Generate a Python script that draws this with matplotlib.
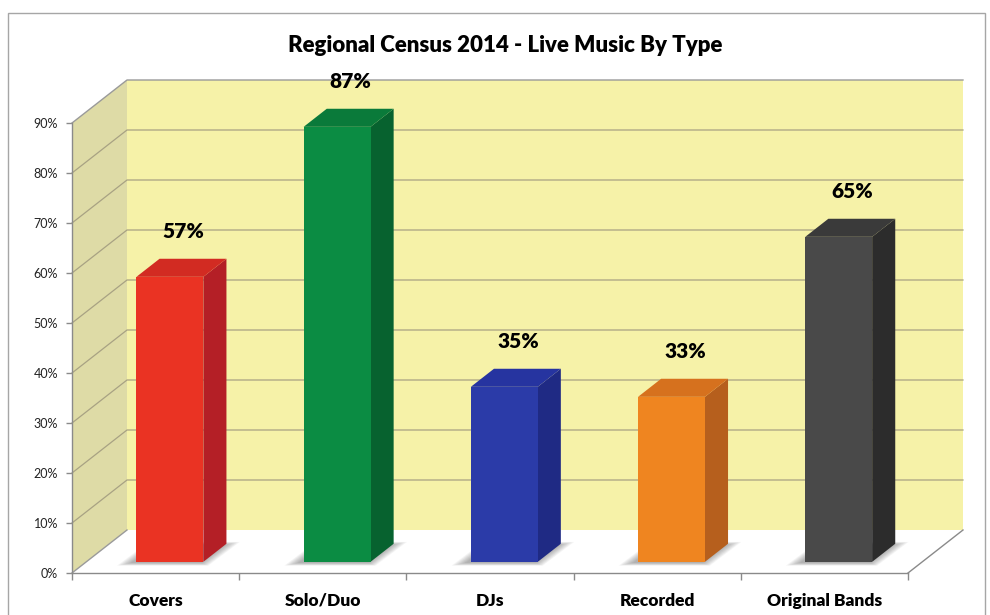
import numpy as np
import matplotlib
matplotlib.use("Agg")
import matplotlib.pyplot as plt
from matplotlib.patches import Polygon, Rectangle
from matplotlib.transforms import IdentityTransform, ScaledTranslation
from matplotlib.ticker import FixedLocator, FuncFormatter

# ---- data ----
categories = ["Covers", "Solo/Duo", "DJs", "Recorded", "Original Bands"]
shares = [57, 87, 35, 33, 65]
y_ticks = [0, 10, 20, 30, 40, 50, 60, 70, 80, 90]
title = "Regional Census 2014 - Live Music By Type"

front_colors = ["#ea3323", "#0b8c43", "#2b3ba8", "#ef8520", "#494949"]
top_colors = ["#d22b22", "#0a7a3a", "#2634a0", "#d6711e", "#3a3a3a"]
side_colors = ["#b41f26", "#07622f", "#1f2a84", "#b65f1d", "#2c2c2c"]

W, H = 990, 615
fig = plt.figure(figsize=(W / 100, H / 100), dpi=100)
fig.patch.set_facecolor("white")
plt.rcParams["font.family"] = ["Lato", "DejaVu Sans"]

# front plane of the oblique box
ax = fig.add_axes([72 / W, 42 / H, 836 / W, 450 / H])
ax.set_xlim(0, len(categories))
ax.set_ylim(0, y_ticks[-1])
ax.patch.set_visible(False)

DEPTH = np.array([55.0, 43.0])   # full floor depth, pixels (right, up)
BAR_FRONT, BAR_BACK = 0.26, 0.68  # bar position within the depth
BAR_W = 0.4
IDT = IdentityTransform()
XMAX = len(categories)
YMAX = y_ticks[-1]


def P(x, y, d):
    """Data point (x, y) pushed back by depth fraction d, in display pixels."""
    return ax.transData.transform((x, y)) + d * DEPTH


def poly(pts, **kw):
    p = Polygon(np.array(pts), closed=True, transform=IDT, clip_on=False, **kw)
    ax.add_artist(p)
    return p


def line(pts, **kw):
    pts = np.array(pts)
    ln = plt.Line2D(pts[:, 0], pts[:, 1], transform=IDT, clip_on=False, **kw)
    ax.add_artist(ln)


# chart border
fig.add_artist(Rectangle((8 / W, -0.02), 977 / W, (H - 13) / H + 0.02,
                         transform=fig.transFigure, fill=False,
                         edgecolor="#a6a6a6", lw=1.0, zorder=0))

# walls and floor
poly([P(0, 0, 0), P(0, YMAX, 0), P(0, YMAX, 1), P(0, 0, 1)],
     facecolor="#dedba6", edgecolor="none", zorder=1)
poly([P(0, 0, 1), P(0, YMAX, 1), P(XMAX, YMAX, 1), P(XMAX, 0, 1)],
     facecolor="#f6f2a8", edgecolor="none", zorder=1)
poly([P(0, 0, 0), P(XMAX, 0, 0), P(XMAX, 0, 1), P(0, 0, 1)],
     facecolor="white", edgecolor="none", zorder=1)

grid_kw = dict(color="#a8a283", lw=0.9, zorder=2)
for v in y_ticks[1:-1]:
    line([P(0, v, 0), P(0, v, 1), P(XMAX, v, 1)], **grid_kw)
line([P(0, YMAX, 0), P(0, YMAX, 1), P(XMAX, YMAX, 1)], color="#9a9a9a", lw=1.0, zorder=2)
line([P(0, 0, 0), P(0, 0, 1)], color="#9a9a9a", lw=1.0, zorder=2)
line([P(XMAX, 0, 0), P(XMAX, 0, 1)], color="#8a8a8a", lw=1.0, zorder=2)

# bars
for i, v in enumerate(shares):
    x0 = i + 0.5 - BAR_W / 2
    x1 = i + 0.5 + BAR_W / 2
    # soft floor shadow
    foot = np.array([P(x0, 0, BAR_FRONT), P(x1, 0, BAR_FRONT),
                     P(x1, 0, BAR_BACK), P(x0, 0, BAR_BACK)])
    c = foot.mean(axis=0)
    for k in range(10):
        s = 1.0 + 0.035 * k
        pts = (foot - c) * np.array([s + 0.05, s]) + c + np.array([-3.0, -1.0])
        poly(pts, facecolor="#303030", edgecolor="none", alpha=0.045, zorder=3)
    # faces
    poly([P(x1, 0, BAR_FRONT), P(x1, 0, BAR_BACK), P(x1, v, BAR_BACK), P(x1, v, BAR_FRONT)],
         facecolor=side_colors[i], edgecolor="none", zorder=4)
    poly([P(x0, v, BAR_FRONT), P(x1, v, BAR_FRONT), P(x1, v, BAR_BACK), P(x0, v, BAR_BACK)],
         facecolor=top_colors[i], edgecolor="none", zorder=4)
    poly([P(x0, 0, BAR_FRONT), P(x1, 0, BAR_FRONT), P(x1, v, BAR_FRONT), P(x0, v, BAR_FRONT)],
         facecolor=front_colors[i], edgecolor="none", zorder=5)
    # value label
    off = ScaledTranslation(28 / 100, 56 / 100, fig.dpi_scale_trans)
    ax.text(i + 0.5, v, f"{v}%", transform=ax.transData + off,
            ha="center", va="center", fontsize=15, fontweight="heavy",
            color="black", zorder=6)

# axes: front-left edge and front floor edge
for side in ("top", "right"):
    ax.spines[side].set_visible(False)
for side in ("left", "bottom"):
    ax.spines[side].set_color("#8a8a8a")
    ax.spines[side].set_linewidth(1.0)
    ax.spines[side].set_zorder(6)

ax.yaxis.set_major_locator(FixedLocator(y_ticks))
ax.yaxis.set_major_formatter(FuncFormatter(lambda v, p: f"{v:.0f}%"))
ax.tick_params(axis="y", direction="out", length=4, width=1.0, color="#8a8a8a",
               labelsize=9, labelcolor="#222222", pad=6)

ax.xaxis.set_major_locator(FixedLocator(np.arange(XMAX + 1)))
ax.xaxis.set_major_formatter(FuncFormatter(lambda v, p: ""))
ax.tick_params(axis="x", which="major", direction="out", length=5, width=1.0,
               color="#8a8a8a")
ax.tick_params(axis="x", which="minor", length=0, labelbottom=False)
# category names under each bar
cat_off = ScaledTranslation(0, -33 / 100, fig.dpi_scale_trans)
for i, name in enumerate(categories):
    ax.text(i + 0.5, 0, name, transform=ax.transData + cat_off,
            ha="center", va="baseline", fontsize=12.5, fontweight="heavy",
            family=["Lato"], color="black")

fig.text(505 / W, 1 - 45 / H, title, ha="center", va="center",
         fontsize=16, fontweight="heavy", color="black")

fig.savefig("out.png", dpi=100)
